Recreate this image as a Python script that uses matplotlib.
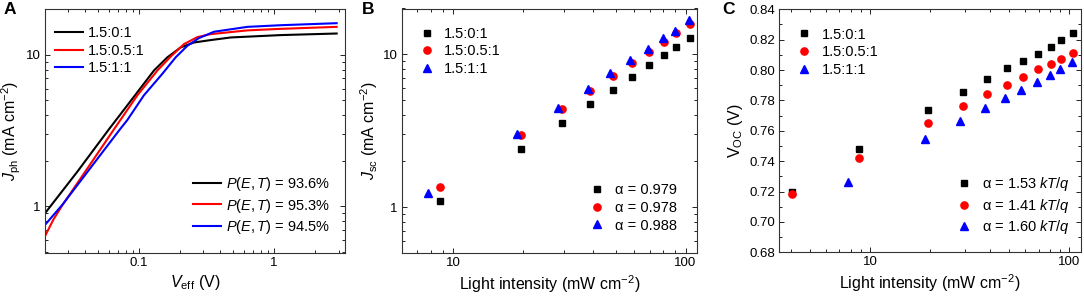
import matplotlib
matplotlib.use("Agg")
import matplotlib.pyplot as plt
from matplotlib.lines import Line2D
from matplotlib.ticker import LogLocator, NullFormatter, FuncFormatter, MultipleLocator

plt.rcParams['font.family'] = ['Liberation Sans', 'DejaVu Sans']
plt.rcParams['mathtext.fontset'] = 'custom'
plt.rcParams['mathtext.rm'] = 'Liberation Sans'
plt.rcParams['mathtext.it'] = 'Liberation Sans:italic'
plt.rcParams['mathtext.bf'] = 'Liberation Sans:bold'

# ---------------- data ----------------
ratios = ['1.5:0:1', '1.5:0.5:1', '1.5:1:1']
colors = ['black', 'red', 'blue']

# Panel A: photocurrent vs effective voltage
veff_0 = [0.02035, 0.035, 0.0599, 0.0868, 0.1291, 0.1622, 0.2035, 0.2555, 0.3396, 0.4775, 1.12, 2.897]
jph_0 = [0.905, 1.689, 3.22, 4.96, 7.89, 9.65, 11.22, 12.10, 12.55, 13.06, 13.54, 13.87]
veff_05 = [0.02035, 0.02333, 0.02706, 0.04385, 0.0653, 0.0973, 0.1368, 0.1716, 0.2154, 0.2707, 0.3396, 0.635, 1.12, 2.897]
jph_05 = [0.642, 0.817, 1.01, 1.905, 3.22, 5.41, 7.89, 9.75, 11.81, 13.13, 13.74, 14.55, 14.89, 15.35]
veff_1 = [0.02035, 0.02706, 0.0723, 0.082, 0.1088, 0.149, 0.1869, 0.2282, 0.278, 0.359, 0.635, 1.12, 2.897]
jph_1 = [0.758, 1.018, 3.22, 3.71, 5.41, 7.51, 9.65, 11.51, 12.94, 14.25, 15.35, 15.74, 16.23]
pet_labels = ['93.6%', '95.3%', '94.5%']

# Panel B / C: light intensity dependence
light_0 = [4.05, 8.8, 19.6, 29.3, 38.7, 48.7, 58.7, 69.8, 80.9, 91.1, 104.5]
light_05 = [4.05, 8.8, 19.6, 29.3, 38.7, 48.7, 58.7, 69.8, 80.9, 91.1, 104.5]
light_1 = [7.75, 18.9, 28.2, 37.9, 47.4, 57.5, 68.8, 80.0, 90.0, 103.5]

jsc_0 = [1.09, 2.39, 3.56, 4.70, 5.89, 7.14, 8.47, 9.90, 11.17, 12.87]
jsc_05 = [1.35, 2.95, 4.38, 5.80, 7.24, 8.77, 10.36, 12.11, 13.74, 15.82]
jsc_1 = [1.24, 3.00, 4.47, 5.95, 7.58, 9.13, 10.90, 12.74, 14.30, 16.80]
alpha_jsc = ['0.979', '0.978', '0.988']

voc_0 = [0.7199, 0.7480, 0.7735, 0.7858, 0.7939, 0.8012, 0.8058, 0.8108, 0.8152, 0.8198, 0.8242]
voc_05 = [0.7184, 0.7419, 0.7654, 0.7766, 0.7843, 0.7900, 0.7954, 0.8005, 0.8042, 0.8073, 0.8115]
voc_1 = [0.7261, 0.7544, 0.7663, 0.7748, 0.7818, 0.7869, 0.7919, 0.7968, 0.8007, 0.8053]
alpha_voc = ['1.53', '1.41', '1.60']

markers = ['s', 'o', '^']
msizes = [4.8, 5.2, 5.6]

# ---------------- figure ----------------
fig = plt.figure(figsize=(10.84, 3.02), dpi=100)
W, H = 1084, 302
def axes_px(l, r, t, b):
    return fig.add_axes([l / W, 1 - b / H, (r - l) / W, (b - t) / H])

axA = axes_px(45, 345, 8.5, 253)
axB = axes_px(401.7, 697, 8.5, 253)
axC = axes_px(779.3, 1080.7, 9.3, 252.3)

TICK_FS = 9.5
LAB_FS = 11.5
LEG_FS = 10.5

def style(ax):
    ax.tick_params(which='both', direction='in', top=True, right=True, labelsize=TICK_FS,
                   width=0.7, colors='#222222', labelcolor='black', pad=3)
    ax.tick_params(which='major', length=3.8)
    ax.tick_params(which='minor', length=2.2)
    for s in ax.spines.values():
        s.set_linewidth(0.8)
        s.set_color('#333333')

def plain_fmt(v, pos):
    if v >= 1:
        return '%d' % round(v)
    return ('%g' % v)

leg_kw = dict(frameon=False, fontsize=LEG_FS, labelspacing=0.25, borderaxespad=0.3)

# Panel A
for x, y, c in zip([veff_0, veff_05, veff_1], [jph_0, jph_05, jph_1], colors):
    axA.plot(x, y, color=c, lw=1.5)
axA.set_xscale('log'); axA.set_yscale('log')
axA.set_xlim(0.0202, 3.34)
axA.set_ylim(0.49, 20.3)
for axis in (axA.xaxis, axA.yaxis):
    axis.set_major_locator(LogLocator(base=10, numticks=10))
    axis.set_minor_locator(LogLocator(base=10, subs=range(2, 10), numticks=20))
    axis.set_major_formatter(FuncFormatter(plain_fmt))
    axis.set_minor_formatter(NullFormatter())
style(axA)
axA.set_xlabel(r'$V_{\rm eff}$ (V)', fontsize=LAB_FS, labelpad=3)
axA.set_ylabel(r'$J_{\rm ph}$ (mA cm$^{-2}$)', fontsize=LAB_FS, labelpad=2)
h1 = [Line2D([], [], color=c, lw=1.5) for c in colors]
leg1 = axA.legend(h1, ratios, loc='upper left', bbox_to_anchor=(-7.5 / 300, 1),
                  handlelength=1.9, handletextpad=0.35, borderpad=0.9, **leg_kw)
axA.add_artist(leg1)
axA.legend(h1, [r'$P(E,T)$ = ' + p for p in pet_labels], loc='lower right',
           bbox_to_anchor=(1 + 2 / 300, 0),
           handlelength=1.9, handletextpad=0.35, borderpad=0.85, **leg_kw)

# Panel B
for x, y, c, m, ms in zip([light_0[1:], light_05[1:], light_1], [jsc_0, jsc_05, jsc_1], colors, markers, msizes):
    axB.plot(x, y, ls='none', marker=m, color=c, ms=ms, mec=c)
axB.set_xscale('log'); axB.set_yscale('log')
axB.set_xlim(6.0, 112)
axB.set_ylim(0.5, 20.0)
for axis in (axB.xaxis, axB.yaxis):
    axis.set_major_locator(LogLocator(base=10, numticks=10))
    axis.set_minor_locator(LogLocator(base=10, subs=range(2, 10), numticks=20))
    axis.set_major_formatter(FuncFormatter(plain_fmt))
    axis.set_minor_formatter(NullFormatter())
style(axB)
axB.set_xlabel(r'Light intensity (mW cm$^{-2}$)', fontsize=LAB_FS, labelpad=3)
axB.set_ylabel(r'$J_{\rm sc}$ (mA cm$^{-2}$)', fontsize=LAB_FS, labelpad=2)
hm = [Line2D([], [], ls='none', marker=m, color=c, ms=ms) for c, m, ms in zip(colors, markers, msizes)]
legB1 = axB.legend(hm, ratios, loc='upper left', bbox_to_anchor=(-5 / 295.3, 1),
                   numpoints=1, handlelength=1.6, handletextpad=0.4, borderpad=0.95, **leg_kw)
axB.add_artist(legB1)
axB.legend(hm, ['α = ' + a for a in alpha_jsc], loc='lower right', numpoints=1,
           handlelength=1.6, handletextpad=0.4, borderpad=1.1, **leg_kw)

# Panel C
for x, y, c, m, ms in zip([light_0, light_05, light_1], [voc_0, voc_05, voc_1], colors, markers, msizes):
    axC.plot(x, y, ls='none', marker=m, color=c, ms=ms, mec=c)
axC.set_xscale('log')
axC.set_xlim(3.5, 114)
axC.set_ylim(0.68, 0.84)
axC.xaxis.set_major_locator(LogLocator(base=10, numticks=10))
axC.xaxis.set_minor_locator(LogLocator(base=10, subs=range(2, 10), numticks=20))
axC.xaxis.set_major_formatter(FuncFormatter(plain_fmt))
axC.xaxis.set_minor_formatter(NullFormatter())
axC.yaxis.set_major_locator(MultipleLocator(0.02))
axC.yaxis.set_minor_locator(MultipleLocator(0.01))
axC.yaxis.set_major_formatter(FuncFormatter(lambda v, p: '%.2f' % v))
style(axC)
axC.set_xlabel(r'Light intensity (mW cm$^{-2}$)', fontsize=LAB_FS, labelpad=3)
axC.set_ylabel(r'V$_{\rm OC}$ (V)', fontsize=LAB_FS, labelpad=3)
legC1 = axC.legend(hm, ratios, loc='upper left', bbox_to_anchor=(-5 / 301.4, 1),
                   numpoints=1, handlelength=1.6, handletextpad=0.4, borderpad=0.95, **leg_kw)
axC.add_artist(legC1)
axC.legend(hm, ['α = ' + a + r' $kT/q$' for a in alpha_voc], loc='lower right',
           bbox_to_anchor=(1 + 5 / 301.4, 0), numpoints=1,
           handlelength=1.6, handletextpad=0.4, borderpad=0.8, **leg_kw)

# Panel letters
for lbl, xp in zip(['A', 'B', 'C'], [4, 362, 722]):
    fig.text(xp / W, 1 - 10 / H, lbl, fontsize=12.5, fontweight='bold', ha='left', va='center')

fig.savefig('out.png', dpi=100)
